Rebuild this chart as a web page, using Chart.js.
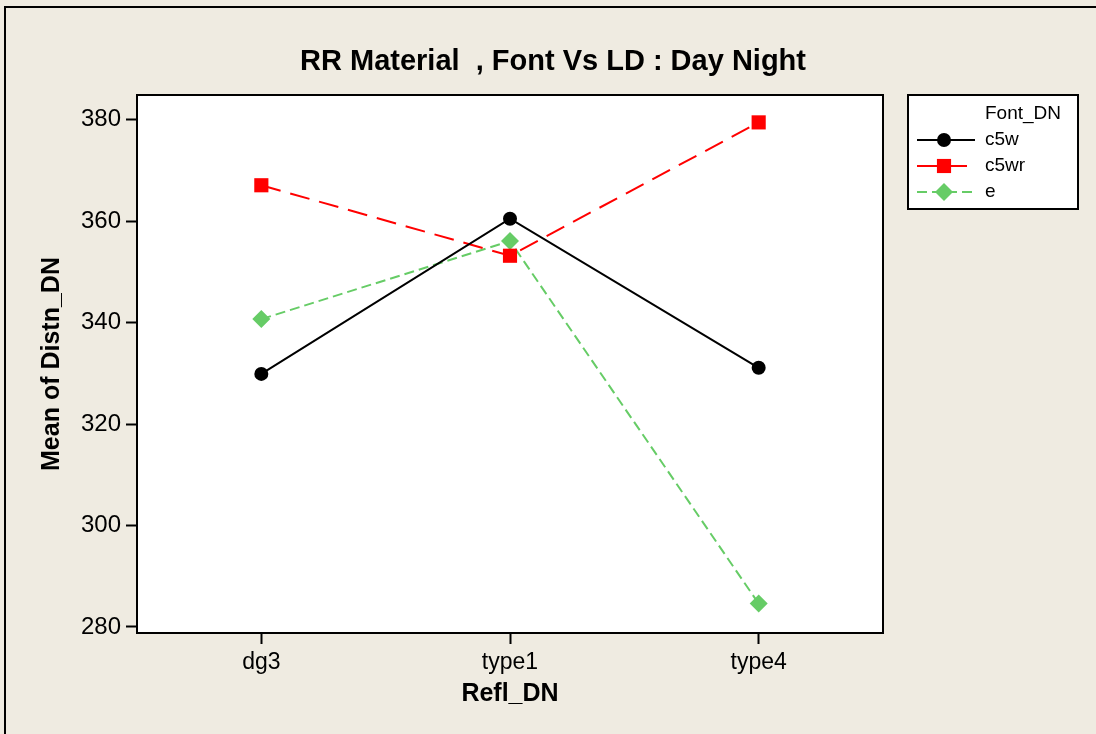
<!DOCTYPE html>
<html>
<head>
<meta charset="utf-8">
<script src="https://cdn.jsdelivr.net/npm/chart.js@4.4.1/dist/chart.umd.min.js"></script>
<style>
  html, body { margin: 0; padding: 0; background: #EFEBE1; }
  canvas { display: block; }
</style>
</head>
<body>
<canvas id="chart" width="1096" height="734"></canvas>
<script>
// Interaction plot: mean distance by reflective material and font
const categories = ['dg3', 'type1', 'type4'];
const seriesNames = ['c5w', 'c5wr', 'e'];
const c5w  = [329.9, 360.5, 331.1];
const c5wr = [367.1, 353.2, 379.5];
const e    = [340.7, 356.1, 284.6];
const yTicks = [280, 300, 320, 340, 360, 380];

const FONT = '"Liberation Sans", Arial, sans-serif';
const PANEL_BG = '#EFEBE1';

// Page background, frame lines and the white plotting panel
const panelPlugin = {
  id: 'panel',
  beforeDraw(chart) {
    const { ctx, chartArea: a, width, height } = chart;
    ctx.save();
    ctx.fillStyle = PANEL_BG;
    ctx.fillRect(0, 0, width, height);
    ctx.strokeStyle = '#000';
    ctx.lineWidth = 2;
    ctx.beginPath();
    ctx.moveTo(5, height);
    ctx.lineTo(5, 7);
    ctx.lineTo(width, 7);
    ctx.stroke();
    ctx.fillStyle = '#fff';
    ctx.fillRect(a.left, a.top, a.right - a.left, a.bottom - a.top);
    ctx.restore();
  },
  beforeDatasetsDraw(chart) {
    const { ctx, chartArea: a } = chart;
    ctx.save();
    ctx.strokeStyle = '#000';
    ctx.lineWidth = 2;
    ctx.strokeRect(a.left, a.top, a.right - a.left, a.bottom - a.top);
    ctx.restore();
  }
};

// Chart heading centred over the page
const headingPlugin = {
  id: 'heading',
  afterDraw(chart) {
    const { ctx } = chart;
    ctx.save();
    ctx.fillStyle = '#000';
    ctx.font = 'bold 29px ' + FONT;
    ctx.textAlign = 'center';
    ctx.textBaseline = 'middle';
    ctx.fillText('RR Material  , Font Vs LD : Day Night', 553, 62);
    ctx.restore();
  }
};

// Boxed legend on the right with a heading row
const boxLegendPlugin = {
  id: 'boxLegend',
  afterDraw(chart) {
    const { ctx } = chart;
    const x0 = 908, y0 = 95, w = 170, h = 114;
    ctx.save();
    ctx.fillStyle = '#fff';
    ctx.fillRect(x0, y0, w, h);
    ctx.strokeStyle = '#000';
    ctx.lineWidth = 2;
    ctx.strokeRect(x0, y0, w, h);
    ctx.fillStyle = '#000';
    ctx.font = '19px ' + FONT;
    ctx.textAlign = 'left';
    ctx.textBaseline = 'middle';
    ctx.fillText('Font_DN', 985, 114);
    chart.data.datasets.forEach((ds, i) => {
      const y = 140 + i * 26;
      ctx.save();
      ctx.strokeStyle = ds.borderColor;
      ctx.lineWidth = ds.borderWidth;
      ctx.setLineDash(ds.borderDash || []);
      ctx.beginPath();
      ctx.moveTo(917, y);
      ctx.lineTo(975, y);
      ctx.stroke();
      ctx.setLineDash([]);
      ctx.fillStyle = ds.pointBackgroundColor;
      ctx.strokeStyle = ds.pointBorderColor;
      Chart.helpers.drawPoint(ctx, {
        pointStyle: ds.pointStyle,
        radius: ds.pointRadius,
        rotation: 0,
        borderWidth: 0
      }, 944, y);
      ctx.restore();
      ctx.fillStyle = '#000';
      ctx.font = '19px ' + FONT;
      ctx.fillText(ds.label, 985, y);
    });
    ctx.restore();
  }
};

const styles = [
  { color: '#000000', dash: [], pointStyle: 'circle', radius: 7 },
  { color: '#FF0000', dash: [20, 10], pointStyle: 'rect', radius: 10 },
  { color: '#66CC66', dash: [10, 5], pointStyle: 'rectRot', radius: 9 }
];
const seriesValues = [c5w, c5wr, e];

const datasets = seriesNames.map((name, i) => ({
  label: name,
  data: seriesValues[i],
  borderColor: styles[i].color,
  backgroundColor: styles[i].color,
  borderWidth: 2,
  borderDash: styles[i].dash,
  pointStyle: styles[i].pointStyle,
  pointRadius: styles[i].radius,
  pointHoverRadius: styles[i].radius,
  pointBackgroundColor: styles[i].color,
  pointBorderColor: styles[i].color,
  pointBorderWidth: 0,
  tension: 0,
  fill: false
}));

new Chart(document.getElementById('chart'), {
  type: 'line',
  data: { labels: categories, datasets },
  options: {
    responsive: false,
    animation: false,
    events: [],
    layout: { padding: { top: 95, right: 213, bottom: 0, left: 0 } },
    plugins: {
      legend: { display: false },
      title: { display: false },
      tooltip: { enabled: false }
    },
    scales: {
      x: {
        type: 'category',
        offset: true,
        grid: { drawOnChartArea: false, drawTicks: true, tickLength: 11, tickWidth: 2, color: '#000', offset: false },
        border: { display: false },
        ticks: { color: '#000', font: { family: FONT, size: 23 }, padding: 5 },
        title: { display: true, text: 'Refl_DN', color: '#000', font: { family: FONT, size: 25, weight: 'bold' }, padding: { top: 0, bottom: 25 } },
        afterFit(scale) { scale.height = 101; }
      },
      y: {
        type: 'linear',
        min: 278.8,
        max: 384.9,
        afterBuildTicks(scale) { scale.ticks = yTicks.map(v => ({ value: v })); },
        grid: { drawOnChartArea: false, drawTicks: true, tickLength: 11, tickWidth: 2, color: '#000' },
        border: { display: false },
        ticks: { color: '#000', font: { family: FONT, size: 24 }, padding: 5 },
        title: { display: true, text: 'Mean of Distn_DN', color: '#000', font: { family: FONT, size: 25, weight: 'bold' }, padding: { top: 37, bottom: 0 } },
        afterFit(scale) { scale.width = 137; }
      }
    }
  },
  plugins: [panelPlugin, headingPlugin, boxLegendPlugin]
});
</script>
</body>
</html>
